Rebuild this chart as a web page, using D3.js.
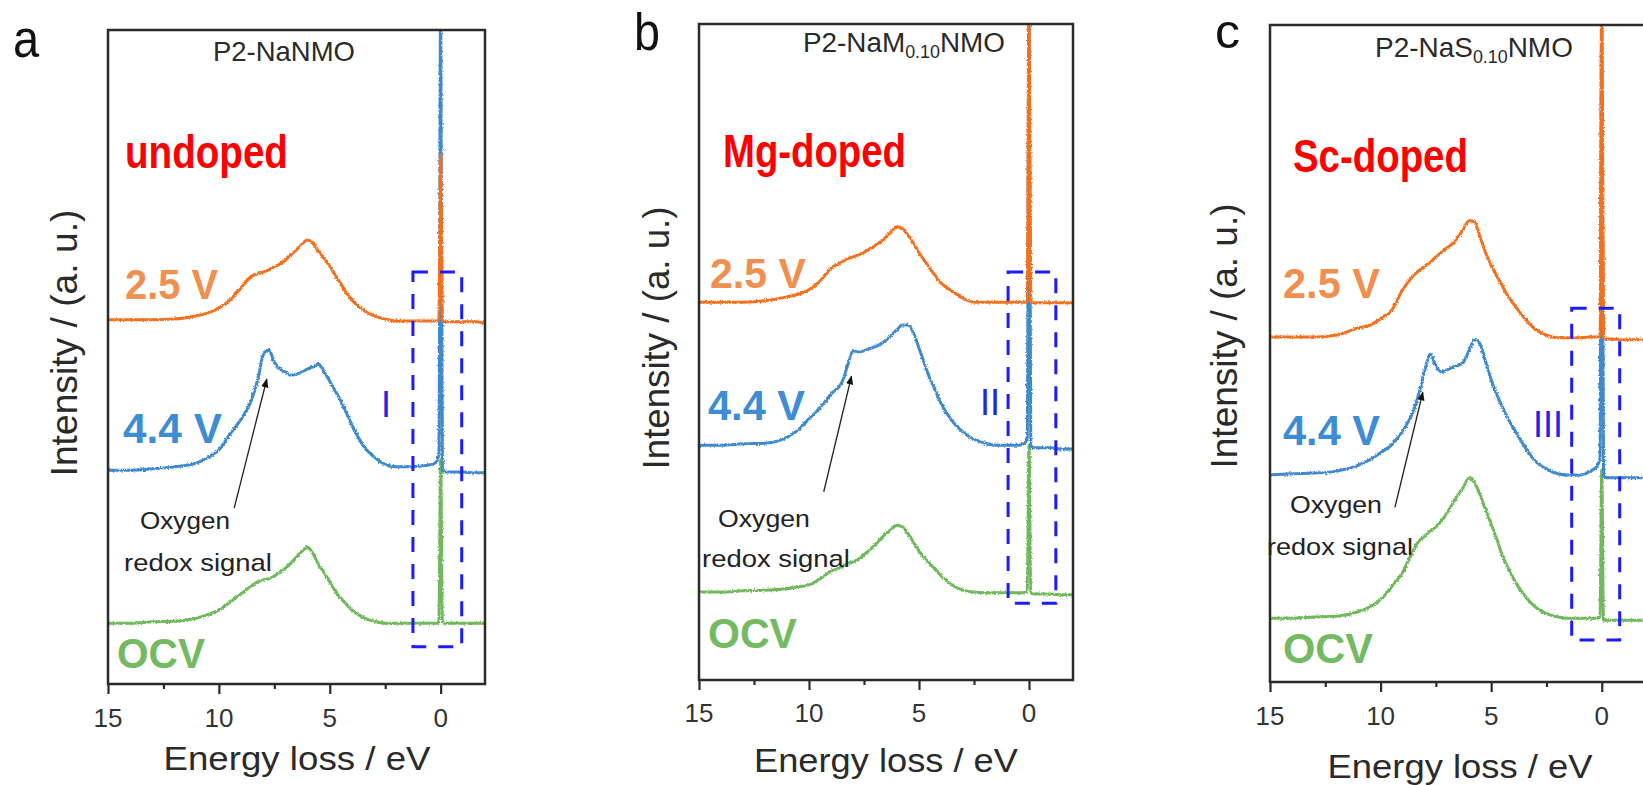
<!DOCTYPE html>
<html>
<head>
<meta charset="utf-8">
<script src="https://cdn.jsdelivr.net/npm/d3@7"></script>
<style>
  html, body { margin: 0; padding: 0; background: #fff; overflow: hidden; }
  svg { display: block; }
</style>
</head>
<body>
<svg id="fig" width="1643" height="785"></svg>
<script>
// ---------------------------------------------------------------------------
// RIXS energy-loss spectra (O K-edge) for three P2 cathodes at three states
// of charge. Intensities are in arbitrary units, already stacked with offsets.
// ---------------------------------------------------------------------------

// Energy-loss grid (eV), shared by every spectrum
const energy = [15, 14, 13, 12, 11, 10.5, 10, 9.5, 9, 8.5, 8.25, 8, 7.75, 7.5, 7.25, 7,
  6.75, 6.5, 6.25, 6, 5.75, 5.5, 5.25, 5, 4.75, 4.5, 4.25, 4, 3.5, 3, 2.5, 2, 1.5, 1,
  0.5, 0.2, 0.08, 0, -0.08, -0.2, -0.5, -1, -1.5, -2];

// (a) undoped P2-NaNMO
const undoped25 = [55.7, 55.7, 55.7, 55.8, 56.3, 56.7, 57.5, 58.7, 60.6, 62.4, 62.7, 63.0, 63.3, 63.8, 64.2, 64.8,
  65.6, 66.4, 67.3, 67.9, 67.4, 66.1, 65.0, 63.9, 62.5, 61.2, 59.8, 58.7, 57.2, 56.3, 55.8, 55.5, 55.5, 55.5,
  55.5, 55.5, 55.7, 80.9, 55.5, 55.4, 55.4, 55.4, 55.4, 55.2];
const undoped44 = [32.7, 32.7, 32.9, 33.2, 33.8, 34.6, 35.8, 38.2, 40.5, 43.7, 46.5, 50.3, 51.1, 49.2, 48.2, 47.7,
  47.2, 47.4, 47.7, 48.2, 48.5, 48.9, 47.7, 46.3, 44.8, 43.3, 41.4, 39.6, 36.5, 34.7, 33.6, 33.2, 33.2, 33.3,
  33.5, 33.9, 35.0, 105, 32.7, 32.4, 32.4, 32.4, 32.3, 32.3];
const undopedOCV = [9.3, 9.3, 9.5, 9.6, 10.1, 10.6, 11.3, 12.5, 13.8, 15.1, 15.6, 15.9, 16.1, 16.5, 17.1, 17.7,
  18.5, 19.4, 20.3, 20.9, 19.9, 18.2, 17.0, 15.6, 14.2, 13.1, 12.2, 11.3, 10.2, 9.6, 9.3, 9.3, 9.3, 9.3,
  9.3, 9.3, 9.5, 34.3, 9.5, 9.3, 9.3, 9.3, 9.3, 9.3];

// (b) Mg-doped P2-NaM0.10NMO
const mg25 = [57.6, 57.6, 57.6, 57.8, 58.4, 58.8, 59.5, 60.8, 62.8, 63.7, 64.2, 64.5, 64.8, 65.2, 65.7, 66.2,
  66.8, 67.5, 68.4, 69.1, 68.8, 67.8, 66.5, 65.1, 63.9, 62.7, 61.6, 60.5, 59.3, 58.2, 57.6, 57.6, 57.6, 57.6,
  57.6, 57.6, 57.8, 105, 57.6, 57.5, 57.5, 57.5, 57.5, 57.5];
const mg44 = [35.8, 35.8, 36.0, 36.1, 37.0, 38.1, 39.8, 41.5, 43.6, 45.4, 47.9, 50.2, 50.0, 50.2, 50.5, 50.8,
  51.2, 51.8, 52.6, 53.4, 54.1, 54.1, 52.9, 50.6, 48.2, 45.9, 44.1, 42.2, 39.5, 37.8, 36.7, 36.1, 35.8, 35.8,
  35.8, 36.1, 36.9, 105, 35.5, 35.4, 35.4, 35.4, 35.2, 35.2];
const mgOCV = [13.4, 13.4, 13.6, 13.7, 13.9, 14.2, 14.5, 15.4, 16.6, 17.2, 17.7, 18.0, 18.4, 19.1, 19.8, 20.6,
  21.5, 22.3, 23.0, 23.6, 23.3, 22.3, 21.0, 19.7, 18.6, 17.7, 16.8, 15.9, 14.5, 13.7, 13.4, 13.3, 13.3, 13.3,
  13.3, 13.3, 13.4, 35.8, 13.3, 13.1, 13.1, 13.1, 13.0, 13.0];

// (c) Sc-doped P2-NaS0.10NMO
const sc25 = [52.5, 52.5, 52.5, 52.8, 53.9, 54.3, 55.3, 56.6, 59.7, 61.9, 62.7, 63.3, 63.9, 64.7, 65.4, 66.1,
  66.7, 67.7, 69.0, 70.2, 70.0, 67.7, 65.3, 63.5, 61.8, 60.3, 58.8, 57.6, 55.4, 53.7, 52.8, 52.4, 52.4, 52.4,
  52.5, 52.5, 52.8, 105, 52.4, 52.2, 52.2, 52.1, 52.1, 52.1];
const sc44 = [31.5, 31.7, 31.8, 32.1, 33.0, 33.8, 34.9, 36.1, 38.2, 41.4, 44.1, 47.5, 49.9, 48.1, 47.2, 47.5,
  47.9, 48.2, 48.7, 50.5, 52.1, 51.4, 48.7, 46.0, 43.8, 41.9, 40.2, 38.7, 35.9, 33.6, 32.4, 31.7, 31.5, 31.5,
  32.1, 32.9, 34.1, 105, 31.4, 31.1, 31.1, 31.1, 31.1, 31.1];
const scOCV = [9.7, 9.7, 9.9, 10.0, 10.7, 11.4, 12.5, 14.5, 16.7, 20.2, 21.5, 22.2, 23.0, 23.6, 24.5, 25.7,
  27.1, 28.5, 29.7, 31.1, 30.3, 28.5, 26.2, 24.0, 21.8, 19.3, 17.5, 15.8, 13.2, 11.4, 10.4, 9.9, 9.7, 9.7,
  9.7, 9.7, 10.0, 32.3, 9.4, 9.4, 9.4, 9.4, 9.4, 9.4];

// Labels
const panelLetters = ["a", "b", "c"];
const dopantLabels = ["undoped", "Mg-doped", "Sc-doped"];
const stateLabels = ["OCV", "4.4 V", "2.5 V"];   // bottom to top
const regionLabels = ["I", "II", "III"];
const sampleTitles = [
  [{ text: "P2-NaNMO" }],
  [{ text: "P2-NaM" }, { text: "0.10", sub: true }, { text: "NMO" }],
  [{ text: "P2-NaS" }, { text: "0.10", sub: true }, { text: "NMO" }]
];
const xTicks = [15, 10, 5, 0];
const xMinorTicks = [12.5, 7.5, 2.5];
const xDomain = [15, -2];

// Spectra per panel, bottom to top: OCV, 4.4 V, 2.5 V
const panelSeries = [
  [undopedOCV, undoped44, undoped25],
  [mgOCV, mg44, mg25],
  [scOCV, sc44, sc25]
];

// ---------------------------------------------------------------------------
// Layout and style
// ---------------------------------------------------------------------------
const FONT = "'Liberation Sans', Arial, Helvetica, sans-serif";
const lineColors = ["#70b85c", "#3f89cd", "#f3711f"];   // OCV, 4.4 V, 2.5 V
const labelColors = ["#74ba62", "#3d8dd6", "#f08f4f"];
const RED = "#ff0000";
const BOX_BLUE = "#1c1cff";
const FRAME = "#2b2b2b";

// Frame of each panel and where its annotations sit
const layout = [
  {
    frame: { left: 108, right: 485, top: 30, bottom: 684 },
    letter: { x: 13, y: 57, w: 27, size: 54 },
    title: { x: 213, y: 61, w: 142 },
    dopant: { x: 125, y: 168, w: 163 },
    states: [{ x: 117, y: 668, w: 88 }, { x: 123, y: 443, w: 99 }, { x: 125, y: 299, w: 93 }],
    region: { x: 381, y: 417 },
    box: { e0: 1.25, e1: -0.95, i0: 5.7, i1: 63.0 },
    arrow: { from: [9.31, 26.9], to: [7.84, 46.6] },
    oxygen: { x: 140, y: 529, w: 90 },
    redox: { x: 124, y: 571, w: 148 },
    tickY: 727,
    xTitle: { x: 297, y: 770, w: 267 },
    yTitle: { x: 77, y: 343, w: 267 }
  },
  {
    frame: { left: 699, right: 1073, top: 24, bottom: 680 },
    letter: { x: 634, y: 50, w: 26, size: 52 },
    title: { x: 803, y: 52, w: 202 },
    dopant: { x: 723, y: 167, w: 183 },
    states: [{ x: 708, y: 648, w: 89 }, { x: 708, y: 420, w: 97 }, { x: 710, y: 288, w: 96 }],
    region: { x: 980, y: 415 },
    box: { e0: 0.95, e1: -1.22, i0: 11.7, i1: 62.2 },
    arrow: { from: [9.33, 28.7], to: [8.07, 46.3] },
    oxygen: { x: 718, y: 527, w: 92 },
    redox: { x: 702, y: 567, w: 148 },
    tickY: 722,
    xTitle: { x: 886, y: 772, w: 264 },
    yTitle: { x: 669, y: 338, w: 263 }
  },
  {
    frame: { left: 1270, right: 1646, top: 25, bottom: 682 },
    letter: { x: 1215, y: 48, w: 25, size: 48 },
    title: { x: 1375, y: 57, w: 198 },
    dopant: { x: 1293, y: 172, w: 175 },
    states: [{ x: 1283, y: 663, w: 90 }, { x: 1283, y: 445, w: 97 }, { x: 1283, y: 298, w: 97 }],
    region: { x: 1533, y: 437 },
    box: { e0: 1.36, e1: -0.81, i0: 6.4, i1: 56.9 },
    arrow: { from: [9.35, 26.6], to: [8.09, 44.1] },
    oxygen: { x: 1290, y: 513, w: 92 },
    redox: { x: 1267, y: 555, w: 146 },
    tickY: 725,
    xTitle: { x: 1460, y: 778, w: 265 },
    yTitle: { x: 1237, y: 336, w: 265 }
  }
];

const svg = d3.select("#fig");

const defs = svg.append("defs");
defs.append("marker")
  .attr("id", "arrowhead")
  .attr("viewBox", "0 0 10 10")
  .attr("refX", 9).attr("refY", 5)
  .attr("markerWidth", 9).attr("markerHeight", 9)
  .attr("markerUnits", "userSpaceOnUse")
  .attr("orient", "auto")
  .append("path")
  .attr("d", "M0,1 L10,5 L0,9 Z")
  .attr("fill", "#111");

// detector noise texture on the measured traces
const jitter = defs.append("filter")
  .attr("id", "jitter")
  .attr("x", "-2%").attr("y", "-2%").attr("width", "104%").attr("height", "104%");
jitter.append("feTurbulence")
  .attr("type", "fractalNoise")
  .attr("baseFrequency", "0.55")
  .attr("numOctaves", 2)
  .attr("seed", 7)
  .attr("result", "noise");
jitter.append("feDisplacementMap")
  .attr("in", "SourceGraphic")
  .attr("in2", "noise")
  .attr("scale", 3.2)
  .attr("xChannelSelector", "R")
  .attr("yChannelSelector", "G");

// Text placed at (x, baseline y) and squeezed/stretched horizontally to a given width
function fitText(parent, parts, o) {
  const t = parent.append("text")
    .attr("font-family", FONT)
    .attr("font-size", o.size)
    .attr("font-weight", o.weight || 400)
    .attr("fill", o.fill || "#222")
    .attr("text-anchor", o.anchor || "start");
  parts.forEach((p, i) => {
    const ts = t.append("tspan").text(p.text);
    if (p.sub) {
      ts.attr("font-size", o.size * 0.64).attr("dy", o.size * 0.22);
    } else if (i > 0 && parts[i - 1].sub) {
      ts.attr("dy", -o.size * 0.22);
    }
  });
  const w = t.node().getBBox().width;
  const k = o.w ? o.w / w : 1;
  t.attr("transform", `translate(${o.x},${o.y}) rotate(${o.rotate || 0}) scale(${k},1)`);
  return t;
}

layout.forEach((L, pi) => {
  const f = L.frame;
  const x = d3.scaleLinear().domain(xDomain).range([f.left, f.right]);
  const y = d3.scaleLinear().domain([0, 100]).range([f.bottom, f.top]);
  const g = svg.append("g").attr("class", `panel-${panelLetters[pi]}`);

  const clipId = `clip-${pi}`;
  defs.append("clipPath").attr("id", clipId)
    .append("rect")
    .attr("x", f.left).attr("y", f.top)
    .attr("width", f.right - f.left).attr("height", f.bottom - f.top);

  // spectra
  const line = d3.line()
    .x(d => x(d[0]))
    .y(d => y(d[1]))
    .curve(d3.curveMonotoneX);

  const plot = g.append("g").attr("clip-path", `url(#${clipId})`)
    .append("g").attr("filter", "url(#jitter)");
  panelSeries[pi].forEach((vals, si) => {
    plot.append("path")
      .datum(energy.map((e, k) => [e, vals[k]]))
      .attr("d", line)
      .attr("fill", "none")
      .attr("stroke", lineColors[si])
      .attr("stroke-width", 3)
      .attr("stroke-linejoin", "round");
  });

  // dashed region box around the elastic peak
  const b = L.box;
  g.append("rect")
    .attr("x", x(b.e0)).attr("y", y(b.i1))
    .attr("width", x(b.e1) - x(b.e0))
    .attr("height", y(b.i0) - y(b.i1))
    .attr("fill", "none")
    .attr("stroke", BOX_BLUE)
    .attr("stroke-width", 3)
    .attr("stroke-dasharray", "15,12");

  // axis ticks (outward, bottom only)
  const axisG = g.append("g").attr("transform", `translate(0,${f.bottom})`);
  axisG.call(d3.axisBottom(x).tickValues(xTicks).tickSize(10).tickFormat(""))
    .call(a => a.select(".domain").remove())
    .call(a => a.selectAll("line").attr("stroke", FRAME).attr("stroke-width", 2.2));
  const minorG = g.append("g").attr("transform", `translate(0,${f.bottom})`);
  minorG.call(d3.axisBottom(x).tickValues(xMinorTicks).tickSize(5).tickFormat(""))
    .call(a => a.select(".domain").remove())
    .call(a => a.selectAll("line").attr("stroke", FRAME).attr("stroke-width", 2.2));

  xTicks.forEach(v => {
    fitText(g, [{ text: String(v) }], { x: x(v), y: L.tickY, size: 26, anchor: "middle", fill: "#333" });
  });

  // frame
  g.append("rect")
    .attr("x", f.left).attr("y", f.top)
    .attr("width", f.right - f.left).attr("height", f.bottom - f.top)
    .attr("fill", "none")
    .attr("stroke", FRAME)
    .attr("stroke-width", 2.5);

  // axis titles
  fitText(g, [{ text: "Energy loss / eV" }], { x: L.xTitle.x, y: L.xTitle.y, w: L.xTitle.w, size: 33, anchor: "middle", fill: "#2a2a2a" });
  fitText(g, [{ text: "Intensity / (a. u.)" }], { x: L.yTitle.x, y: L.yTitle.y, w: L.yTitle.w, size: 37, anchor: "middle", rotate: -90, fill: "#2a2a2a" });

  // panel letter and sample title
  fitText(g, [{ text: panelLetters[pi] }], { x: L.letter.x, y: L.letter.y, w: L.letter.w, size: L.letter.size, fill: "#111" });
  fitText(g, sampleTitles[pi], { x: L.title.x, y: L.title.y, w: L.title.w, size: 28, fill: "#2a2a2a" });

  // dopant label
  fitText(g, [{ text: dopantLabels[pi] }], { x: L.dopant.x, y: L.dopant.y, w: L.dopant.w, size: 46, weight: 700, fill: RED });

  // state labels, bottom to top
  L.states.forEach((s, si) => {
    fitText(g, [{ text: stateLabels[si] }], { x: s.x, y: s.y, w: s.w, size: 42, weight: 700, fill: labelColors[si] });
  });

  // region numeral
  fitText(g, [{ text: regionLabels[pi] }], { x: L.region.x, y: L.region.y, size: 36, fill: "#2424e8" });

  // oxygen redox annotation
  g.append("line")
    .attr("x1", x(L.arrow.from[0])).attr("y1", y(L.arrow.from[1]))
    .attr("x2", x(L.arrow.to[0])).attr("y2", y(L.arrow.to[1]))
    .attr("stroke", "#222")
    .attr("stroke-width", 1.3)
    .attr("marker-end", "url(#arrowhead)");
  fitText(g, [{ text: "Oxygen" }], { x: L.oxygen.x, y: L.oxygen.y, w: L.oxygen.w, size: 24, fill: "#222" });
  fitText(g, [{ text: "redox signal" }], { x: L.redox.x, y: L.redox.y, w: L.redox.w, size: 24, fill: "#222" });
});
</script>
</body>
</html>
